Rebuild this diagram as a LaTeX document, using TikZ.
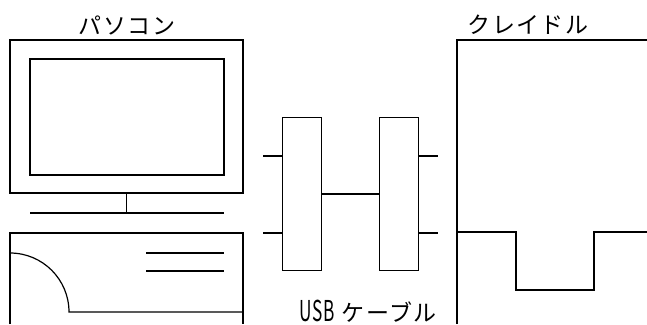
\documentclass[tikz,border=0pt]{standalone}
\usepackage{fontspec}
\setmainfont{Noto Sans CJK JP}
\newfontfamily\fuenteRotulo[LetterSpace=6]{Noto Sans CJK JP}
\newcommand\siglaEstrecha[1]{\scalebox{0.75}[1.25]{#1}}
\usetikzlibrary{positioning}
\tikzset{
  trazo/.style={draw=black, line width=1.2pt},
  cajaBase/.style={trazo, rectangle, inner sep=0pt, outer sep=0pt},
  cajaEnchufe/.style={cajaBase, minimum width=39pt, minimum height=153pt},
  rotulo/.style={font=\fuenteRotulo\fontsize{23}{26}\selectfont, inner sep=0pt},
}

\begin{document}
\begin{tikzpicture}[x=1pt, y=-1pt]
    \useasboundingbox (0,0) rectangle (647,324);
    % pasokon: monitor, pie y caja
    \node[cajaBase, minimum width=233pt, minimum height=153pt, anchor=north west] (monitor) at (10,40) {};
    \node[cajaBase, minimum width=194pt, minimum height=116pt, anchor=north west] (pantalla) at (30,59) {};
    \node[rotulo] (tituloPC) at (127,25) {パソコン};
    \draw[trazo] (monitor.south) -- ++(0,20) coordinate (base);
    \draw[trazo] (pantalla.west |- base) -- (pantalla.east |- base);
    \draw[trazo] (10,324) |- (243,233) -- (243,324);
    \draw[trazo] (146,253) -- (224,253);
    \draw[trazo] (146,271) -- (224,271);
    \draw[trazo] (10,253) .. controls (42.6,253) and (69,279.4) .. (69,312) -- (243,312);
    % cable USB
    \node[cajaEnchufe] (enchufePC) at (302,194) {};
    \node[cajaEnchufe, right=58pt of enchufePC] (enchufeCuna) {};
    \coordinate (pataPCa) at (263,156);
    \coordinate (pataPCb) at (263,233);
    \coordinate (pataCunaA) at (438,156);
    \coordinate (pataCunaB) at (438,233);
    \draw[trazo] (enchufePC) -- (enchufeCuna);
    \draw[trazo] (enchufePC.west |- pataPCa) -- (pataPCa);
    \draw[trazo] (enchufePC.west |- pataPCb) -- (pataPCb);
    \draw[trazo] (enchufeCuna.east |- pataCunaA) -- (pataCunaA);
    \draw[trazo] (enchufeCuna.east |- pataCunaB) -- (pataCunaB);
    \node[rotulo] (tituloCable) at (368,311) {\siglaEstrecha{USB} ケーブル};
    % kureidoru
    \draw[trazo] (457,324) |- (647,40);
    \draw[trazo] (457,232) -- (516,232) |- (594,290) |- (647,232);
    \node[rotulo] (tituloCuna) at (528,25) {クレイドル};
\end{tikzpicture}
\end{document}
